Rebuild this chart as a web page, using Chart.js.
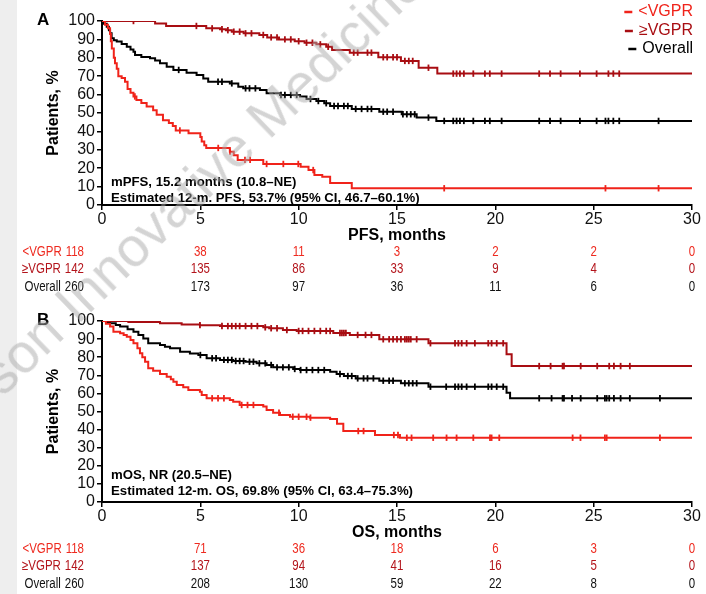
<!DOCTYPE html>
<html><head><meta charset="utf-8">
<script src="https://cdn.jsdelivr.net/npm/chart.js@4.4.1/dist/chart.umd.min.js"></script>
<style>
html,body{margin:0;padding:0;background:#fff;}
body{width:706px;height:594px;position:relative;overflow:hidden;font-family:'Liberation Sans',Arial,sans-serif;}
#strip{position:absolute;left:0;top:0;width:17px;height:594px;background:#eeeeee;}
.wrap{position:absolute;left:0;width:706px;}
#wa{top:0;height:298px;}
#wb{top:298px;height:296px;}
#wm{position:absolute;left:0;top:0;white-space:nowrap;font-family:'Liberation Sans',Arial,sans-serif;font-size:55px;line-height:55px;color:rgba(170,170,170,0.5);transform-origin:0 0;transform:translate(3px,398px) rotate(-44deg) translate(0,-46.5px);pointer-events:none;z-index:5;}
</style></head><body>
<div id="strip"></div>
<div class="wrap" id="wa"><canvas id="ca" width="706" height="298"></canvas></div>
<div class="wrap" id="wb"><canvas id="cb" width="706" height="296"></canvas></div>
<div id="wm">son Innovative Medicine</div>
<script>
// ---------- data ----------
const months = [0, 5, 10, 15, 20, 25, 30];
const yTicks = [0,10,20,30,40,50,60,70,80,90,100];
const groupLabels = ['<VGPR', '\u2265VGPR', 'Overall'];

// Panel A: PFS  ([month, % event-free])
const pfsLow = [[0,100],[0.15,98],[0.3,96],[0.41,93],[0.45,89],[0.5,85],[0.6,80],[0.66,77],[0.75,74],[0.83,70],[1.0,69],[1.17,67],[1.3,63],[1.45,61],[1.6,59],[1.75,57],[2.0,55.5],[2.27,53.5],[2.6,51.5],[2.78,49],[3.1,46],[3.4,44.5],[3.6,43],[3.75,40.5],[4.4,39],[5.0,37],[5.07,34.5],[5.2,32.5],[5.3,31],[6.5,29],[6.7,27],[6.9,24.5],[8.2,22.3],[10.1,20.8],[10.5,19],[10.8,16.3],[11.2,15.4],[11.6,12],[12.7,9.1],[30,9.1]];
const pfsLowCens = [1.67,3.96,5.91,6.51,7.27,7.53,8.37,9.22,9.98,10.74,17.4,25.6,28.3];
const pfsHigh = [[0,100],[2.7,98.7],[3.26,97.3],[5.3,96],[6.0,95.5],[6.3,95],[6.6,94.2],[7.2,93.3],[8.0,92.4],[8.4,91.1],[9.0,90],[9.8,89],[10.3,88.2],[10.9,87.3],[11.4,86],[11.7,84.2],[12.6,82.8],[14.05,80.3],[15.2,78.3],[16.1,74.6],[17.05,71.4],[30,71.4]];
const pfsHighCens = [1.6,4.8,5.6,6.1,6.4,6.7,7.0,7.3,7.6,8.2,8.6,8.9,9.3,9.6,10.0,10.4,10.7,11.1,11.5,12.8,13.0,13.5,13.7,14.3,14.5,14.8,15.0,15.4,15.6,15.8,16.6,17.86,18.03,18.2,18.4,18.88,19.47,19.72,20.32,22.23,22.78,23.32,24.3,25.15,25.75,26.0,26.3];
const pfsAll = [[0,100],[0.1,98.5],[0.24,96.9],[0.35,95],[0.41,93.3],[0.49,90.6],[0.6,89.5],[0.75,88.8],[1.0,87.5],[1.26,86],[1.45,84.5],[1.6,83.3],[1.68,81.5],[2.0,80.5],[2.44,79.7],[2.7,78.5],[2.95,77],[3.29,75.2],[3.63,73.4],[4.3,71.9],[4.81,70.6],[5.15,68.8],[5.4,67],[6.5,66.1],[6.93,64.3],[7.18,63.4],[8.03,62.5],[8.37,60.7],[9.05,59.8],[10.07,58.9],[10.4,57.6],[10.9,56.5],[11.3,55.3],[11.6,53.8],[12.7,52.2],[14.1,50.7],[15.24,49.3],[16.0,47.5],[17.0,45.7],[30,45.7]];
const pfsAllCens = [3.9,5.9,6.1,6.6,7.3,7.5,7.8,9.1,9.3,9.6,9.9,10.6,11.0,11.4,11.8,12.0,12.3,12.5,12.9,13.2,13.5,13.7,14.3,14.5,14.8,15.3,15.5,15.7,15.9,16.6,17.4,17.86,18.03,18.2,18.4,18.88,19.47,19.72,20.32,22.23,22.78,23.32,24.3,25.15,25.6,25.75,26.0,26.3,28.3];
const pfsRiskLow = [118,38,11,3,2,2,0];
const pfsRiskHigh = [142,135,86,33,9,4,0];
const pfsRiskAll = [260,173,97,36,11,6,0];

// Panel B: OS
const osLow = [[0,100],[0.2,98.5],[0.41,96.9],[0.58,94.1],[0.92,93.2],[1.1,92.3],[1.26,91.3],[1.45,89.5],[1.6,87.7],[1.8,85],[1.93,82.2],[2.05,80],[2.19,77.5],[2.35,73.9],[2.6,72.5],[2.95,70.7],[3.29,69.2],[3.5,67.8],[3.63,66.5],[3.8,64.6],[4.13,63.4],[4.39,61.9],[4.98,60.9],[5.07,59.1],[5.32,57.3],[6.5,56.4],[6.67,55.4],[7.0,53.6],[8.2,52.7],[8.37,50.8],[8.7,49.3],[9.05,48.1],[9.56,47.1],[10.57,46.6],[11.6,45.8],[11.95,43.3],[12.27,39.2],[13.88,37],[15.15,35.5],[30,35.5]];
const osLowCens = [5.6,5.9,6.2,7.1,7.4,7.7,9.0,9.7,10.0,10.4,10.6,13.03,13.3,14.84,15.05,15.5,15.74,16.84,17.52,18.03,18.88,19.73,19.81,20.2,23.93,24.33,25.57,25.66,28.37];
const osHigh = [[0,100],[1.34,99.5],[2.95,98.8],[4.05,98.1],[4.98,97.7],[6.0,97.2],[8.2,96.5],[8.5,96],[9.2,95],[9.9,94.5],[11.76,93.4],[12.6,92.3],[14.1,89.9],[16.6,87.7],[20.57,81.6],[20.83,75.1],[30,75.1]];
const osHighCens = [4.98,6.1,6.4,6.6,6.8,7.0,7.3,7.6,7.9,8.3,8.6,8.9,9.4,10.0,10.2,10.5,10.8,11.1,11.4,11.6,12.1,12.2,12.3,12.4,13.0,13.4,13.7,14.3,14.6,14.8,15.0,15.2,15.4,15.5,15.6,15.7,16.0,16.7,17.95,18.12,18.29,18.54,18.96,19.64,19.81,20.07,20.4,22.23,22.81,23.42,23.49,24.34,25.18,25.79,26.03,26.37,26.84];
const osAll = [[0,100],[0.2,99.3],[0.41,98.7],[0.7,97.8],[0.92,96.9],[1.3,95.5],[1.6,94.1],[1.85,92.3],[2.1,90.4],[2.35,87.7],[2.95,86.7],[3.2,85.8],[3.46,84.9],[3.97,83],[4.47,82.1],[4.9,81.2],[5.32,79.4],[6.0,78.5],[6.67,77.9],[7.3,77.5],[7.86,76.6],[8.37,75.7],[8.7,74.4],[9.72,73.5],[10.07,72.9],[11.6,72],[11.93,70.7],[12.3,69.6],[12.9,68.3],[14.1,67],[15.2,65.6],[16.6,63.7],[20.57,60.4],[20.75,57.3],[30,57.3]];
const osAllCens = [5.0,5.6,5.8,6.2,6.4,6.6,6.8,7.0,7.2,7.5,7.7,8.0,8.3,8.6,8.9,9.2,9.5,9.8,10.1,10.4,10.7,11.0,11.3,12.1,12.5,12.7,13.0,13.3,13.5,13.8,14.3,14.6,14.8,15.4,15.6,15.8,16.0,16.7,17.5,17.95,18.12,18.29,18.54,18.96,19.64,19.81,20.07,20.4,22.23,22.86,23.42,23.49,23.9,24.34,25.18,25.57,25.66,25.79,26.03,26.37,26.84,28.37];
const osRiskLow = [118,71,36,18,6,3,0];
const osRiskHigh = [142,137,94,41,16,5,0];
const osRiskAll = [260,208,130,59,22,8,0];

// ---------- styling ----------
const FONT = "'Liberation Sans', Arial, sans-serif";
const RED = '#f0231a', DRED = '#a80d12', BLACK = '#000000';
const TXT_RED = '#ee2a1f', TXT_DRED = '#b3141b', TXT_BLACK = '#111111';
const NARROW_X = 0.82;

function buildSeries(steps, cens) {
  const pts = steps.map(p => ({x: p[0], y: p[1], c: false}));
  cens.forEach(t => {
    let s = steps[0][1];
    for (const p of steps) { if (p[0] <= t) s = p[1]; else break; }
    pts.push({x: t, y: s, c: true});
  });
  pts.sort((a, b) => (a.x - b.x) || ((a.c ? 1 : 0) - (b.c ? 1 : 0)));
  return pts;
}
function ds(data, color) {
  return {
    data, borderColor: color, backgroundColor: color, borderWidth: 2, stepped: 'before', fill: false,
    pointStyle: 'line', pointRotation: 90,
    pointRadius: c => (c.raw && c.raw.c) ? 3.2 : 0,
    pointBorderWidth: 1.8, pointBorderColor: color, pointHoverRadius: 0
  };
}
function narrowText(ctx, text, x, y, align) {
  ctx.save();
  ctx.translate(x, y);
  ctx.scale(NARROW_X, 1);
  ctx.textAlign = align;
  ctx.fillText(text, 0, 0);
  ctx.restore();
}

function extras(cfg) {
  return {
    id: 'extras' + cfg.id,
    afterDraw(chart) {
      const ctx = chart.ctx, xs = chart.scales.x;
      ctx.save();
      // panel letter
      ctx.fillStyle = '#000';
      ctx.font = 'bold 17px ' + FONT;
      ctx.textAlign = 'left'; ctx.textBaseline = 'middle';
      ctx.fillText(cfg.letter, 37, cfg.letterY);
      // annotations
      ctx.font = 'bold 13.2px ' + FONT;
      ctx.fillText(cfg.note1, 111, cfg.noteY[0]);
      ctx.fillText(cfg.note2, 111, cfg.noteY[1]);
      // risk table
      const rows = [cfg.riskLow, cfg.riskHigh, cfg.riskAll];
      const cols = [TXT_RED, TXT_DRED, TXT_BLACK];
      ctx.font = '14px ' + FONT;
      rows.forEach((row, r) => {
        ctx.fillStyle = cols[r];
        const first = String(row[0]);
        const nw = ctx.measureText(first).width * NARROW_X;
        narrowText(ctx, first, 84, cfg.rowY[r], 'right');
        narrowText(ctx, groupLabels[r], 84 - nw - 4, cfg.rowY[r], 'right');
        row.forEach((v, i) => { if (i > 0) narrowText(ctx, String(v), xs.getPixelForValue(months[i]), cfg.rowY[r], 'center'); });
      });
      // legend
      if (cfg.legend) {
        const lc = [RED, DRED, BLACK];
        ctx.font = '16px ' + FONT;
        groupLabels.forEach((lab, i) => {
          const y = [12, 31, 49][i];
          ctx.fillStyle = lc[i]; ctx.strokeStyle = lc[i];
          ctx.textAlign = 'right';
          ctx.fillText(lab, 693, y);
          const w = ctx.measureText(lab).width;
          const x1 = 693 - w - 6;
          ctx.lineWidth = 2.5;
          ctx.beginPath(); ctx.moveTo(x1 - 8, y); ctx.lineTo(x1, y); ctx.stroke();
        });
      }
      ctx.restore();
    }
  };
}

function makeChart(cfg) {
  const axisCommon = {
    grid: {display: true, drawOnChartArea: false, drawTicks: true, tickLength: 5, color: '#000', lineWidth: 1.5},
    border: {display: true, color: '#000', width: 2}
  };
  return new Chart(document.getElementById(cfg.id), {
    type: 'line',
    data: {datasets: [
      ds(buildSeries(cfg.low, cfg.lowC), RED),
      ds(buildSeries(cfg.high, cfg.highC), DRED),
      ds(buildSeries(cfg.all, cfg.allC), BLACK)
    ]},
    options: {
      responsive: false, animation: false, events: [],
      layout: {padding: cfg.pad},
      plugins: {legend: {display: false}, tooltip: {enabled: false}},
      scales: {
        x: Object.assign({
          type: 'linear', min: 0, max: 30,
          afterFit: s => { s.height = 40; },
          afterBuildTicks: s => { s.ticks = months.map(v => ({value: v})); },
          ticks: {color: '#111', font: {size: 16, family: FONT}, padding: 0, maxRotation: 0, autoSkip: false},
          title: {display: true, text: cfg.xTitle, color: '#000', font: {size: 16, weight: 'bold', family: FONT}, padding: {top: 0, bottom: 0}}
        }, axisCommon),
        y: Object.assign({
          min: 0, max: 100,
          afterFit: s => { s.width = 102; },
          afterBuildTicks: s => { s.ticks = yTicks.map(v => ({value: v})); },
          ticks: {color: '#111', font: {size: 16, family: FONT}, padding: 2, autoSkip: false},
          title: {display: true, text: 'Patients, %', color: '#000', font: {size: 16, weight: 'bold', family: FONT}, padding: {top: 44, bottom: 0}}
        }, axisCommon)
      }
    },
    plugins: [extras(cfg)]
  });
}

makeChart({
  id: 'ca', letter: 'A', letterY: 20, legend: true, xTitle: 'PFS, months',
  pad: {top: 21, right: 14, bottom: 53, left: 0},
  low: pfsLow, lowC: pfsLowCens, high: pfsHigh, highC: pfsHighCens, all: pfsAll, allC: pfsAllCens,
  riskLow: pfsRiskLow, riskHigh: pfsRiskHigh, riskAll: pfsRiskAll,
  note1: 'mPFS, 15.2 months (10.8\u2013NE)',
  note2: 'Estimated 12-m. PFS, 53.7% (95% CI, 46.7\u201360.1%)',
  noteY: [182, 198], rowY: [252, 269, 287]
});
makeChart({
  id: 'cb', letter: 'B', letterY: 22, legend: false, xTitle: 'OS, months',
  pad: {top: 23, right: 14, bottom: 52, left: 0},
  low: osLow, lowC: osLowCens, high: osHigh, highC: osHighCens, all: osAll, allC: osAllCens,
  riskLow: osRiskLow, riskHigh: osRiskHigh, riskAll: osRiskAll,
  note1: 'mOS, NR (20.5\u2013NE)',
  note2: 'Estimated 12-m. OS, 69.8% (95% CI, 63.4\u201375.3%)',
  noteY: [177, 193], rowY: [251, 268, 286]
});
</script>
</body></html>
